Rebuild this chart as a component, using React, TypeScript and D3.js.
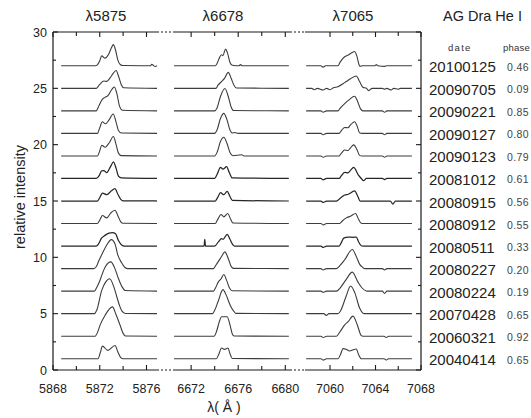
import React from "react";
import * as d3 from "d3";

type Pt = [number, number];

const dates = ["20100125", "20090705", "20090221", "20090127", "20090123", "20081012", "20080915", "20080912", "20080511", "20080227", "20080224", "20070428", "20060321", "20040414"];
const phases = ["0.46", "0.09", "0.85", "0.80", "0.79", "0.61", "0.56", "0.55", "0.33", "0.20", "0.19", "0.65", "0.92", "0.65"];
const offsets = [27, 25, 23, 21, 19, 17, 15, 13, 11, 9, 7, 5, 3, 1];
const noisyRows = [5, 6, 8];

const panelTitles = ["λ5875", "λ6678", "λ7065"];
const panelDomains: Pt[] = [[5868, 5876.9], [6670.46, 6680.4], [7057.8, 7068]];
const specExtents: Pt[] = [[5868.7, 5876.9], [6670.55, 6680.3], [7057.9, 7067.2]];
const xTicks = [[5868, 5870, 5872, 5874, 5876], [6672, 6674, 6676, 6678, 6680], [7060, 7062, 7064, 7066, 7068]];
const xTickLabels = [[5868, 5872, 5876], [6672, 6676, 6680], [7060, 7064, 7068]];
const yMajor = [0, 5, 10, 15, 20, 25, 30];
const yMinor = [2.5, 7.5, 12.5, 17.5, 22.5, 27.5];

// He I 5875 profiles (intensity above each row's offset)
const he5875: Pt[][] = [
  [[5871.6, 0], [5871.8, 0.08], [5872.0, 0.45], [5872.17, 0.88], [5872.45, 0.68], [5872.75, 1.0], [5873.0, 1.6], [5873.17, 1.88], [5873.35, 1.4], [5873.55, 0.5], [5873.75, 0.12], [5874.0, 0.02], [5876.35, 0], [5876.45, 0.14], [5876.6, 0.02], [5876.75, -0.06]],
  [[5871.7, 0], [5872.0, 0.35], [5872.35, 0.65], [5872.6, 0.62], [5872.9, 0.95], [5873.2, 1.4], [5873.4, 1.58], [5873.6, 1.1], [5873.85, 0.3], [5874.05, 0.05]],
  [[5871.7, 0], [5871.95, 0.5], [5872.2, 1.0], [5872.45, 1.2], [5872.7, 1.35], [5873.0, 1.85], [5873.25, 2.12], [5873.45, 1.6], [5873.7, 0.4], [5873.95, 0.05]],
  [[5871.8, 0], [5872.0, 0.5], [5872.22, 1.03], [5872.5, 0.85], [5872.8, 1.2], [5873.15, 1.72], [5873.4, 1.0], [5873.6, 0.25], [5873.85, 0.03]],
  [[5871.8, 0], [5872.0, 0.45], [5872.17, 0.95], [5872.46, 0.77], [5872.8, 1.15], [5873.17, 1.72], [5873.4, 1.0], [5873.6, 0.25], [5873.85, 0.03]],
  [[5871.7, 0], [5871.95, 0.25], [5872.17, 0.68], [5872.35, 0.7], [5872.6, 0.52], [5872.9, 1.0], [5873.17, 1.48], [5873.4, 0.9], [5873.6, 0.2], [5873.85, 0.05]],
  [[5871.8, 0], [5872.05, 0.4], [5872.23, 0.71], [5872.6, 0.56], [5873.0, 0.9], [5873.3, 1.1], [5873.55, 0.6], [5873.8, 0.15], [5874.0, 0.02]],
  [[5871.8, 0], [5872.05, 0.4], [5872.23, 0.71], [5872.6, 0.5], [5872.95, 0.95], [5873.3, 1.18], [5873.55, 0.7], [5873.8, 0.15], [5874.0, 0.02]],
  [[5871.7, 0], [5871.9, 0.2], [5872.15, 0.7], [5872.45, 0.95], [5872.8, 1.15], [5873.1, 1.2], [5873.35, 1.1], [5873.6, 0.5], [5873.9, 0.08], [5874.1, 0]],
  [[5871.5, 0], [5871.75, 0.25], [5871.9, 0.65], [5872.2, 1.3], [5872.6, 2.1], [5873.0, 2.57], [5873.3, 2.2], [5873.55, 1.2], [5873.85, 0.55], [5874.15, 0.1], [5874.4, 0]],
  [[5871.55, 0], [5871.74, 0.33], [5872.0, 0.9], [5872.17, 1.4], [5872.5, 2.2], [5872.95, 2.6], [5873.3, 2.0], [5873.6, 1.12], [5873.9, 0.4], [5874.2, 0.05]],
  [[5871.55, 0], [5871.74, 0.3], [5872.17, 2.07], [5872.5, 2.8], [5872.85, 3.1], [5873.2, 2.4], [5873.46, 1.5], [5873.7, 0.7], [5873.89, 0.25], [5874.2, 0.02]],
  [[5871.6, 0], [5871.85, 0.45], [5872.03, 0.98], [5872.46, 1.86], [5873.09, 2.6], [5873.4, 1.9], [5873.74, 0.98], [5874.0, 0.25], [5874.2, 0.02]],
  [[5871.85, 0], [5872.05, 0.55], [5872.23, 1.12], [5872.69, 0.74], [5873.31, 1.18], [5873.55, 0.6], [5873.8, 0.1], [5874.0, 0]],
];

// He I 6678 profiles
const he6678: Pt[][] = [
  [[6674.05, 0], [6674.2, 0.2], [6674.4, 0.7], [6674.58, 0.98], [6674.7, 0.9], [6674.92, 1.48], [6675.1, 1.1], [6675.3, 0.3], [6675.5, 0.05], [6676.05, 0], [6676.2, 0.1], [6676.35, 0]],
  [[6674.1, 0], [6674.3, 0.3], [6674.58, 0.6], [6674.85, 0.9], [6675.15, 1.42], [6675.4, 0.9], [6675.65, 0.25], [6675.85, 0.03]],
  [[6674.0, 0], [6674.2, 0.25], [6674.5, 1.3], [6674.87, 1.98], [6675.15, 1.3], [6675.4, 0.35], [6675.6, 0.03]],
  [[6674.0, 0], [6674.2, 0.3], [6674.5, 1.35], [6674.78, 1.78], [6675.05, 1.2], [6675.3, 0.3], [6675.5, 0.03], [6675.7, 0.08], [6676.0, 0]],
  [[6674.0, 0], [6674.2, 0.3], [6674.5, 1.3], [6674.78, 1.66], [6675.05, 1.1], [6675.3, 0.3], [6675.55, 0.02], [6676.3, 0.1], [6676.5, 0]],
  [[6674.0, 0], [6674.2, 0.35], [6674.5, 0.98], [6674.7, 0.83], [6675.01, 1.04], [6675.25, 0.5], [6675.5, 0.05]],
  [[6674.05, 0], [6674.25, 0.3], [6674.5, 0.74], [6674.78, 0.56], [6675.06, 0.86], [6675.3, 0.4], [6675.5, 0.05]],
  [[6674.05, 0], [6674.25, 0.35], [6674.55, 0.8], [6674.78, 0.59], [6675.12, 0.89], [6675.35, 0.4], [6675.55, 0.05]],
  [[6673.1, 0], [6673.16, 0.6], [6673.22, 0], [6674.0, 0], [6674.3, 0.35], [6674.58, 0.65], [6674.72, 0.6], [6675.06, 1.04], [6675.3, 0.6], [6675.55, 0.1], [6675.7, 0]],
  [[6673.9, 0], [6674.1, 0.3], [6674.36, 0.71], [6674.6, 1.1], [6674.87, 1.48], [6675.15, 0.9], [6675.4, 0.2], [6675.6, 0.02]],
  [[6673.9, 0], [6674.1, 0.35], [6674.3, 0.8], [6674.55, 1.1], [6674.78, 1.48], [6675.0, 1.0], [6675.25, 0.3], [6675.45, 0.03]],
  [[6673.8, 0], [6674.0, 0.3], [6674.3, 1.1], [6674.7, 2.13], [6675.0, 1.6], [6675.3, 0.8], [6675.6, 0.25], [6675.8, 0.03]],
  [[6673.95, 0], [6674.15, 0.4], [6674.4, 1.3], [6674.58, 1.72], [6675.06, 1.72], [6675.3, 1.0], [6675.5, 0.2], [6675.65, 0.02]],
  [[6674.15, 0], [6674.35, 0.4], [6674.58, 0.95], [6674.84, 0.83], [6675.12, 0.95], [6675.35, 0.3], [6675.5, 0.02]],
];

// He I 7065 profiles
const he7065: Pt[][] = [
  [[7059.2, 0], [7059.39, -0.12], [7059.6, 0], [7060.7, 0], [7060.9, 0.35], [7061.29, 0.8], [7061.6, 0.95], [7061.9, 1.15], [7062.16, 1.27], [7062.35, 0.9], [7062.55, 0.1], [7062.65, -0.05], [7062.85, 0], [7063.95, 0], [7064.06, 0.1], [7064.2, 0], [7064.8, -0.05], [7065.0, 0]],
  [[7058.4, 0], [7058.6, -0.12], [7058.9, 0], [7059.39, -0.15], [7059.7, 0], [7060.0, -0.12], [7060.3, 0.05], [7060.7, 0.15], [7061.14, 0.4], [7061.43, 0.6], [7061.8, 0.85], [7062.31, 1.1], [7062.6, 0.6], [7062.89, 0.1], [7063.2, 0], [7063.4, -0.2], [7063.7, 0], [7064.6, 0], [7064.8, -0.08], [7065.0, 0], [7065.38, -0.15], [7065.6, 0], [7066.0, -0.08], [7066.2, 0]],
  [[7059.2, 0], [7059.39, -0.12], [7059.7, 0], [7060.7, 0], [7060.9, 0.25], [7061.29, 0.65], [7061.7, 1.0], [7062.16, 1.3], [7062.4, 0.9], [7062.7, 0.15], [7062.9, 0], [7064.6, 0], [7064.8, -0.12], [7065.0, 0]],
  [[7059.2, 0], [7059.39, -0.12], [7059.7, 0], [7060.8, 0], [7061.0, 0.25], [7061.29, 0.53], [7061.58, 0.5], [7061.8, 0.75], [7062.16, 1.04], [7062.4, 0.6], [7062.6, 0.05], [7062.8, 0], [7064.6, 0], [7064.8, -0.12], [7065.0, 0]],
  [[7059.2, 0], [7059.39, -0.12], [7059.7, 0], [7060.8, 0], [7061.0, 0.25], [7061.29, 0.53], [7061.58, 0.48], [7061.8, 0.72], [7062.08, 0.98], [7062.35, 0.6], [7062.6, 0.05], [7062.8, 0], [7064.6, 0], [7064.8, -0.12], [7065.0, 0]],
  [[7059.2, 0], [7059.39, -0.12], [7059.7, 0], [7060.8, 0], [7061.0, 0.25], [7061.29, 0.53], [7061.58, 0.5], [7061.8, 0.72], [7062.08, 0.98], [7062.5, 0.3], [7062.75, 0], [7062.95, -0.2], [7063.2, 0], [7064.6, 0], [7064.8, -0.1], [7065.0, 0]],
  [[7059.2, 0], [7059.39, -0.12], [7059.7, 0], [7060.56, 0], [7060.9, 0.25], [7061.29, 0.53], [7061.6, 0.6], [7062.16, 0.89], [7062.45, 0.4], [7062.65, 0], [7065.3, 0], [7065.53, -0.27], [7065.75, 0]],
  [[7059.2, 0], [7059.39, -0.12], [7059.7, 0], [7060.85, 0], [7061.1, 0.25], [7061.43, 0.5], [7061.8, 0.65], [7062.25, 0.89], [7062.5, 0.4], [7062.75, 0.02], [7062.9, 0]],
  [[7059.2, 0], [7059.39, -0.12], [7059.7, 0], [7060.8, 0], [7060.99, 0.3], [7061.2, 0.7], [7061.6, 0.8], [7062.0, 0.78], [7062.31, 0.8], [7062.5, 0.4], [7062.75, 0.03], [7062.9, 0]],
  [[7059.2, 0], [7059.39, -0.12], [7059.7, 0], [7060.56, 0], [7060.9, 0.3], [7061.3, 0.8], [7061.96, 1.69], [7062.3, 1.1], [7062.6, 0.4], [7062.89, 0.1], [7063.04, 0], [7064.6, 0], [7064.8, -0.12], [7065.0, 0]],
  [[7059.2, 0], [7059.39, -0.1], [7059.7, 0], [7060.56, 0], [7060.9, 0.3], [7061.4, 1.0], [7061.96, 1.69], [7062.46, 0.8], [7062.8, 0.3], [7063.19, 0.02], [7063.3, 0], [7064.6, 0], [7064.8, -0.2], [7065.0, 0]],
  [[7059.45, 0], [7059.68, -0.15], [7059.9, 0], [7060.7, 0], [7060.95, 0.3], [7061.4, 1.5], [7061.81, 2.46], [7062.2, 1.8], [7062.6, 0.5], [7062.89, 0.05], [7063.0, 0]],
  [[7059.2, 0], [7059.39, -0.12], [7059.7, 0], [7060.56, 0], [7060.85, 0.35], [7061.29, 1.0], [7061.6, 1.3], [7062.02, 1.78], [7062.4, 1.0], [7062.75, 0.05], [7062.9, 0], [7064.75, 0], [7064.94, -0.12], [7065.15, 0]],
  [[7059.2, 0], [7059.39, -0.12], [7059.7, 0], [7060.7, 0], [7060.95, 0.45], [7061.14, 0.9], [7061.4, 0.85], [7061.73, 0.68], [7062.05, 0.8], [7062.31, 0.86], [7062.5, 0.4], [7062.75, 0], [7064.75, 0], [7064.94, -0.12], [7065.15, 0]],
];

const profiles = [he5875, he6678, he7065];

const W = 531;
const H = 418;
const left = 53;
const right = 421;
const top = 32;
const bottom = 370;
const panelRanges: Pt[] = [[53, 157], [173, 290], [305, 421]];
const font = "'Liberation Sans', Arial, Helvetica, sans-serif";
const axisColor = "#1a1a1a";
const lineColor = "#3c3c3c";

export default function App() {
  const y = d3.scaleLinear().domain([0, 30]).range([bottom, top]);
  const xs = panelDomains.map((d, i) => d3.scaleLinear().domain(d).range(panelRanges[i]));

  const lines = profiles.map((rows, p) =>
    rows.map((prof, r) => {
      const pts: Pt[] = [[specExtents[p][0], 0], ...prof, [specExtents[p][1], 0]];
      const gen = d3
        .line<Pt>()
        .x((d) => xs[p](d[0]))
        .y((d) => y(d[1] + offsets[r]))
        .curve(d3.curveMonotoneX);
      return gen(pts) || "";
    })
  );

  const gaps: Pt[] = [[157, 173], [290, 305]];

  return (
    <svg width={W} height={H} style={{ position: "absolute", left: 0, top: 0, background: "#fff" }} fontFamily={font}>
      <rect x={0} y={0} width={W} height={H} fill="#fff" />
      {/* spectra */}
      {lines.map((rows, p) =>
        rows.map((d, r) => (
          <path
            key={`l${p}-${r}`}
            d={d}
            fill="none"
            stroke={noisyRows.includes(r) ? "#262626" : lineColor}
            strokeWidth={noisyRows.includes(r) ? 1.25 : 1.1}
            strokeLinejoin="round"
          />
        ))
      )}
      {/* frame: left and right axes */}
      <line x1={left} x2={left} y1={top} y2={bottom} stroke={axisColor} strokeWidth={1.2} />
      <line x1={right} x2={right} y1={top} y2={bottom} stroke={axisColor} strokeWidth={1.2} />
      {/* top & bottom axis segments */}
      {[top, bottom].map((yy) => (
        <g key={`ax${yy}`}>
          {panelRanges.map((r, i) => (
            <line key={i} x1={r[0]} x2={r[1]} y1={yy} y2={yy} stroke={axisColor} strokeWidth={1.2} />
          ))}
          {gaps.map((g, i) => (
            <line key={`g${i}`} x1={g[0]} x2={g[1]} y1={yy} y2={yy} stroke={axisColor} strokeWidth={1.2} strokeDasharray="2,2" />
          ))}
        </g>
      ))}
      {/* x ticks */}
      {xTicks.map((ticks, p) =>
        ticks.map((t) => {
          const x = xs[p](t);
          const major = xTickLabels[p].includes(t);
          const len = major ? 5 : 4;
          return (
            <g key={`xt${p}-${t}`}>
              <line x1={x} x2={x} y1={bottom} y2={bottom - len} stroke={axisColor} strokeWidth={1.1} />
              <line x1={x} x2={x} y1={top} y2={top + len} stroke={axisColor} strokeWidth={1.1} />
            </g>
          );
        })
      )}
      {xTickLabels.map((ticks, p) =>
        ticks.map((t) => (
          <text key={`xl${p}-${t}`} x={xs[p](t)} y={392.5} textAnchor="middle" fontSize={12.5} fill="#222">
            {t}
          </text>
        ))
      )}
      {/* y ticks */}
      {yMajor.map((t) => (
        <g key={`ym${t}`}>
          <line x1={left} x2={left + 5} y1={y(t)} y2={y(t)} stroke={axisColor} strokeWidth={1.1} />
          <line x1={right} x2={right - 5} y1={y(t)} y2={y(t)} stroke={axisColor} strokeWidth={1.1} />
          <text x={47} y={y(t) + 4.5} textAnchor="end" fontSize={12.5} fill="#222">
            {t}
          </text>
        </g>
      ))}
      {yMinor.map((t) => (
        <g key={`yn${t}`}>
          <line x1={left} x2={left + 3} y1={y(t)} y2={y(t)} stroke={axisColor} strokeWidth={1.1} />
          <line x1={right} x2={right - 3} y1={y(t)} y2={y(t)} stroke={axisColor} strokeWidth={1.1} />
        </g>
      ))}
      {/* axis titles */}
      <text transform={`translate(25,197) rotate(-90)`} textAnchor="middle" fontSize={14.5} fill="#222">
        relative intensity
      </text>
      <text x={224} y={412} textAnchor="middle" fontSize={14} fill="#222">
        λ( Å )
      </text>
      {/* panel titles */}
      {panelTitles.map((t, i) => {
        const cx = i === 0 ? 106 : i === 1 ? 223 : 353;
        return (
          <text key={t} x={cx} y={21} textAnchor="middle" fontSize={15} fill="#222">
            {t}
          </text>
        );
      })}
      <text x={443} y={21} fontSize={14.5} fill="#222">
        AG Dra He I
      </text>
      <text x={448} y={51} fontSize={9.5} letterSpacing={1.3} fill="#333">
        date
      </text>
      <text x={503} y={51} fontSize={9.5} letterSpacing={0.2} fill="#333">
        phase
      </text>
      {dates.map((d, r) => (
        <g key={d + r}>
          <text x={429} y={y(offsets[r]) + 6.5} fontSize={15} fill="#222">
            {d}
          </text>
          <text x={507} y={y(offsets[r]) + 5} fontSize={10.5} letterSpacing={0.4} fill="#444">
            {phases[r]}
          </text>
        </g>
      ))}
    </svg>
  );
}
